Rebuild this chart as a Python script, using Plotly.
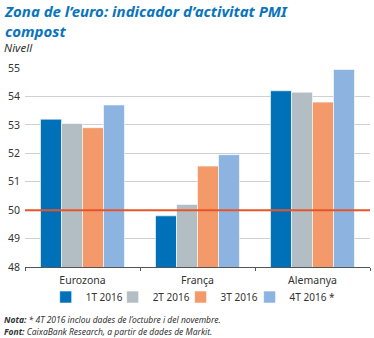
import plotly.graph_objects as go

categories = ["Eurozona", "França", "Alemanya"]
series_names = ["1T 2016", "2T 2016", "3T 2016", "4T 2016 *"]
values_1t = [53.2, 49.8, 54.2]
values_2t = [53.05, 50.2, 54.15]
values_3t = [52.9, 51.55, 53.8]
values_4t = [53.7, 51.95, 54.95]
colors = ["#0070b8", "#b2bec3", "#f3996a", "#8db3e0"]
reference_level = 50

legend_ids = ["legend", "legend2", "legend3", "legend4"]
legend_x = [0.06, 0.254, 0.451, 0.651]

fig = go.Figure()
for name, vals, col, lid in zip(series_names, [values_1t, values_2t, values_3t, values_4t], colors, legend_ids):
    fig.add_trace(go.Bar(x=categories, y=vals, name=name, legend=lid,
                         marker=dict(color=col, line=dict(color="white", width=0.6))))

fig.add_hline(y=reference_level, line=dict(color="#e8542a", width=2))

font = "Noto Sans"
legend_common = dict(orientation="h", y=-0.151, yanchor="middle", xanchor="left",
                     font=dict(size=10, color="#333"), itemwidth=30,
                     bgcolor="rgba(0,0,0,0)", borderwidth=0)
layout_legends = {lid: dict(legend_common, x=lx) for lid, lx in zip(legend_ids, legend_x)}

fig.update_layout(
    width=374, height=338,
    margin=dict(l=25, r=4, t=68, b=71),
    paper_bgcolor="white", plot_bgcolor="white",
    barmode="group", bargap=0.27, bargroupgap=0,
    font=dict(family=font, size=10, color="#333333"),
    showlegend=True,
    **layout_legends,
    annotations=[
        dict(text="<b><i>Zona de l’euro: indicador d’activitat PMI<br>compost</i></b>", x=0, y=1, xref="paper", yref="paper",
             xanchor="left", yanchor="bottom", align="left", showarrow=False,
             font=dict(family=font, size=15, color="#0a74bd"), xshift=-23, yshift=25),
        dict(text="<i>Nivell</i>", xref="paper", yref="paper", x=0, y=1, xanchor="left", yanchor="middle",
             showarrow=False, font=dict(family=font, size=11.5, color="#333"), xshift=-23, yshift=21),
        dict(text="<b><i>Nota:</i></b><i> * 4T 2016 inclou dades de l’octubre i del novembre.</i>",
             xref="paper", yref="paper", x=0, y=0, xanchor="left", yanchor="middle", align="left",
             showarrow=False, font=dict(family=font, size=8.5, color="#333"), xshift=-23, yshift=-52),
        dict(text="<b><i>Font:</i></b><i> CaixaBank Research, a partir de dades de Markit.</i>",
             xref="paper", yref="paper", x=0, y=0, xanchor="left", yanchor="middle", align="left",
             showarrow=False, font=dict(family=font, size=8.5, color="#333"), xshift=-23, yshift=-64),
    ],
)

fig.update_yaxes(range=[48, 55], dtick=1, showgrid=True, gridcolor="#d0d0d0", gridwidth=1,
                 zeroline=False, showline=False, ticks="", tickfont=dict(size=10.5, color="#333"),
                 ticklabelstandoff=4)
fig.update_xaxes(showline=True, linecolor="#555", linewidth=1, ticks="outside", tickson="boundaries",
                 ticklen=3, tickcolor="#555", showgrid=False,
                 tickfont=dict(size=10.5, color="#333"), ticklabelstandoff=3)

fig.write_html("out.html")
